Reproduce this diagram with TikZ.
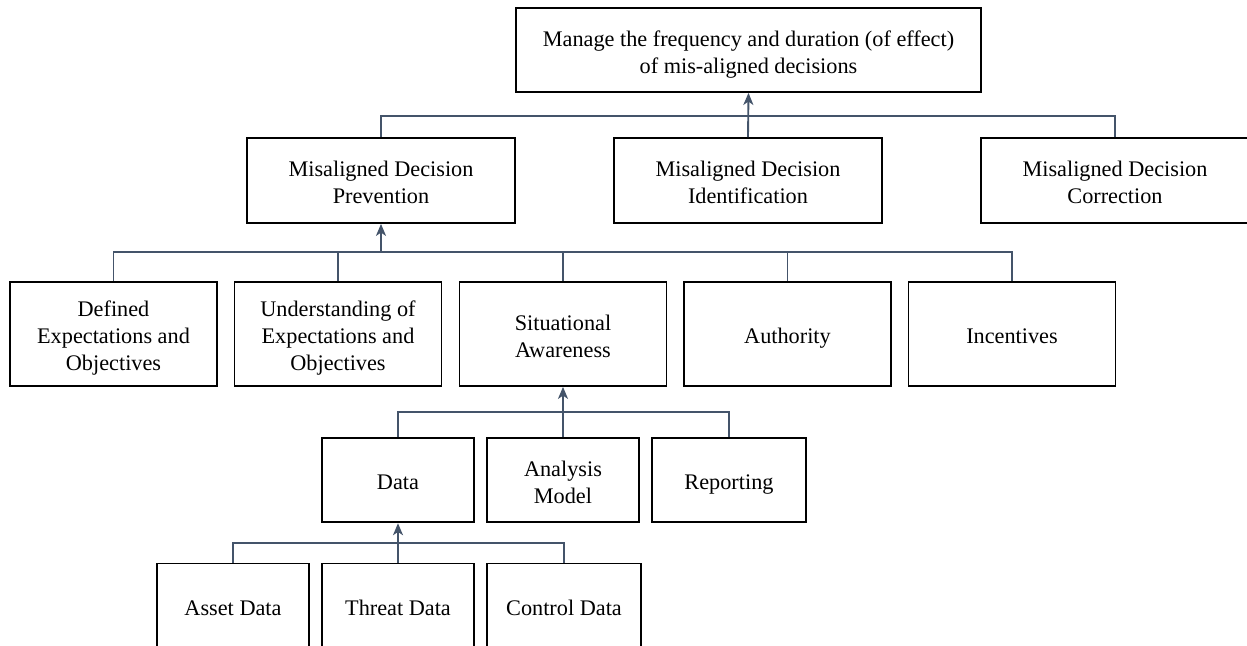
\documentclass[tikz,border=0pt]{standalone}
\usepackage{fontspec}
\setmainfont{Liberation Serif}
\usetikzlibrary{arrows.meta}
\definecolor{connc}{HTML}{44546A}
\newcommand\strA{\rule{0pt}{19pt}}
\newcommand\strB{\rule[-4.5pt]{0pt}{4.5pt}}
\begin{document}
\begin{tikzpicture}[x=0.75pt,y=-0.75pt,
  box/.style={draw=black, line width=1.35pt, fill=white, inner sep=0pt, align=center,
    font=\fontsize{16.7}{20.2}\selectfont},
  top/.style={box, minimum width=348.75pt, minimum height=63pt},
  lvtwo/.style={box, minimum width=201.4pt, minimum height=63.75pt},
  lvthree/.style={box, minimum width=155.25pt, minimum height=78pt},
  lvfour/.style={box, minimum width=114pt, minimum height=63.5pt},
  lvfive/.style={box, minimum width=114pt, minimum height=63.75pt},
  conn/.style={draw=connc, line width=1.4pt},
  arr/.style={conn, -{Stealth[length=9pt,width=7.5pt,inset=2.5pt]}}]
\useasboundingbox (0,0) rectangle (1247,646);
\clip (0,0) rectangle (1247,646);

\node[top] (goal) at (748.5,50) {\strA Manage the frequency and duration (of effect)\\of mis-aligned decisions\strB};

\node[lvtwo] (prev)  at (381,180.5)  {\strA Misaligned Decision\\Prevention\strB};
\node[lvtwo] (ident) at (748,180.5)  {\strA Misaligned Decision\\Identification\strB};
\node[lvtwo] (corr)  at (1115,180.5) {\strA Misaligned Decision\\Correction\strB};

\node[lvthree] (def)  at (113.5,334) {\strA Defined\\Expectations and\\Objectives\strB};
\node[lvthree] (und)  at (338,334)   {\strA Understanding of\\Expectations and\\Objectives\strB};
\node[lvthree] (sit)  at (563,334)   {\strA Situational\\Awareness\strB};
\node[lvthree] (auth) at (787.5,334) {\strA Authority\strB};
\node[lvthree] (inc)  at (1012,334)  {\strA Incentives\strB};

\node[lvfour] (data) at (398,480) {\strA Data\strB};
\node[lvfour] (anal) at (563,480) {\strA Analysis\\Model\strB};
\node[lvfour, minimum width=116pt] (rep) at (729,480) {\strA Reporting\strB};

\node[lvfive] (asset)  at (233,606) {\strA Asset Data\strB};
\node[lvfive] (threat) at (398,606) {\strA Threat Data\strB};
\node[lvfive, minimum width=115.5pt] (ctrl) at (564,606) {\strA Control Data\strB};

% level 1 connectors
\coordinate (busA) at (748,116);
\draw[conn] (prev.north) |- (busA) -| (corr.north);
\draw[arr] (ident.north) -- (goal.south);

% level 2 connectors
\coordinate (busB) at (381,252);
\draw[conn] (def.north) |- (busB) -| (inc.north);
\draw[conn] (und.north) -- (und.north |- busB);
\draw[conn] (sit.north) -- (sit.north |- busB);
\draw[conn] (auth.north) -- (auth.north |- busB);
\draw[arr] (busB) -- (prev.south);

% level 3 connectors
\coordinate (busC) at (563,411.7);
\draw[conn] (data.north) |- (busC) -| (rep.north);
\draw[arr] (anal.north) -- (sit.south);

% level 4 connectors
\coordinate (busD) at (398,543.3);
\draw[conn] (asset.north) |- (busD) -| (ctrl.north);
\draw[arr] (threat.north) -- (data.south);
\end{tikzpicture}
\end{document}
